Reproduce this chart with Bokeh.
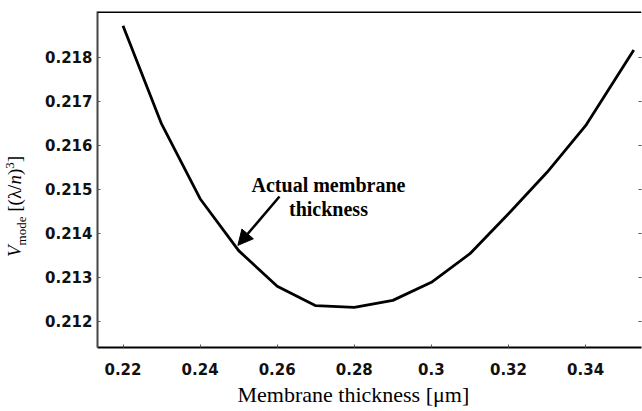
from bokeh.plotting import figure
from bokeh.layouts import row
from bokeh.models import (Range1d, LinearAxis, Label, Arrow, NormalHead, Title,
                          FixedTicker, Span, Div)
from bokeh.embed import file_html
from bokeh.resources import INLINE

# ---- data ----
thickness = [0.22, 0.23, 0.24, 0.25, 0.26, 0.27, 0.28, 0.29, 0.30, 0.31,
             0.32, 0.33, 0.34, 0.3525]
v_mode = [0.21872, 0.21649, 0.21479, 0.21361, 0.21280, 0.21236, 0.21232,
          0.21248, 0.21289, 0.21354, 0.21445, 0.21539, 0.21645, 0.21817]

x_ticks = [0.22, 0.24, 0.26, 0.28, 0.30, 0.32, 0.34]
x_tick_labels = ["0.22", "0.24", "0.26", "0.28", "0.3", "0.32", "0.34"]
y_ticks = [0.212, 0.213, 0.214, 0.215, 0.216, 0.217, 0.218]
y_tick_labels = ["0.212", "0.213", "0.214", "0.215", "0.216", "0.217", "0.218"]

note_lines = ["Actual membrane", "thickness"]
note_x = 0.2733
note_y = [0.21511, 0.21456]
arrow_start = (0.2606, 0.21484)
arrow_end = (0.2498, 0.21373)

x_label = "Membrane thickness [\u03bcm]"

X0, X1 = 0.213385, 0.35450
Y0, Y1 = 0.211409, 0.219045
DIV_W = 32
W, H = 642 - DIV_W, 410
ML, MR, MT, MB = 97 - DIV_W, 1, 11, 63

p = figure(width=W, height=H,
           x_range=Range1d(X0, X1), y_range=Range1d(Y0, Y1),
           output_backend="svg", toolbar_location=None,
           min_border_left=ML, min_border_right=MR,
           min_border_top=MT, min_border_bottom=MB)
p.margin = 0
p.outline_line_color = None
p.xgrid.visible = False
p.ygrid.visible = False
p.background_fill_color = "white"
p.border_fill_color = "white"

tick_font = "DejaVu Sans"

xa = p.xaxis[0]
xa.ticker = FixedTicker(ticks=x_ticks)
xa.major_label_overrides = dict(zip(x_ticks, x_tick_labels))
xa.major_tick_in = 3
xa.major_tick_out = 0
xa.minor_tick_line_color = None
xa.axis_line_color = "black"
xa.axis_line_width = 2
xa.major_tick_line_color = "#555555"
xa.major_label_text_font = tick_font
xa.major_label_text_font_style = "bold"
xa.major_label_text_font_size = "15px"
xa.major_label_text_color = "#111111"
xa.major_label_standoff = 15

ya = p.yaxis[0]
ya.ticker = FixedTicker(ticks=y_ticks)
ya.major_label_overrides = dict(zip(y_ticks, y_tick_labels))
ya.major_tick_in = 3
ya.major_tick_out = 0
ya.minor_tick_line_color = None
ya.axis_line_color = "#444444"
ya.axis_line_width = 2
ya.major_tick_line_color = "#555555"
ya.major_label_text_font = tick_font
ya.major_label_text_font_style = "bold"
ya.major_label_text_font_size = "15px"
ya.major_label_text_color = "#111111"
ya.major_label_standoff = 5

ra = LinearAxis(ticker=FixedTicker(ticks=y_ticks), major_label_text_font_size="0px",
                major_label_text_color=None,
                major_label_standoff=0, major_tick_in=3, major_tick_out=0,
                axis_line_color=None, minor_tick_line_color=None,
                major_tick_line_color="#555555")
p.add_layout(ra, "right")

p.add_layout(Span(location=Y1, dimension="width",
                  line_color="black", line_width=3))

p.line(thickness, v_mode, line_color="black", line_width=2.8)

for txt, yy in zip(note_lines, note_y):
    p.add_layout(Label(x=note_x, y=yy, text=txt, text_align="center",
                       text_baseline="alphabetic", text_font="Liberation Serif",
                       text_font_style="bold", text_font_size="20px",
                       text_color="black"))

p.add_layout(Arrow(end=NormalHead(size=15, fill_color="black", line_color="black"),
                   x_start=arrow_start[0], y_start=arrow_start[1],
                   x_end=arrow_end[0], y_end=arrow_end[1],
                   line_color="black", line_width=2.5))

p.add_layout(Title(text=x_label, align="left", offset=140,
                   text_font="Liberation Serif", text_font_style="normal",
                   text_font_size="22px", standoff=4, text_color="black"), "below")

ylab_html = (
    '<div style="position:relative; width:%dpx; height:%dpx;">'
    '<div style="position:absolute; left:5px; top:257px; transform-origin:0 0; '
    'transform:rotate(-90deg); white-space:nowrap; font-family:\'Liberation Serif\'; '
    'font-size:19px; line-height:19px; color:black;">'
    '<i>V</i><span style="font-size:13px; position:relative; top:5px;">mode</span>'
    '&nbsp;[(\u03bb/<i>n</i>)<span style="font-size:13px; position:relative; top:-7px;">3</span>]'
    '</div></div>' % (DIV_W, H)
)
ydiv = Div(text=ylab_html, width=DIV_W, height=H, margin=0)

layout = row(ydiv, p, spacing=0)
layout.margin = 0
open("out.html", "w").write(file_html(layout, INLINE))
